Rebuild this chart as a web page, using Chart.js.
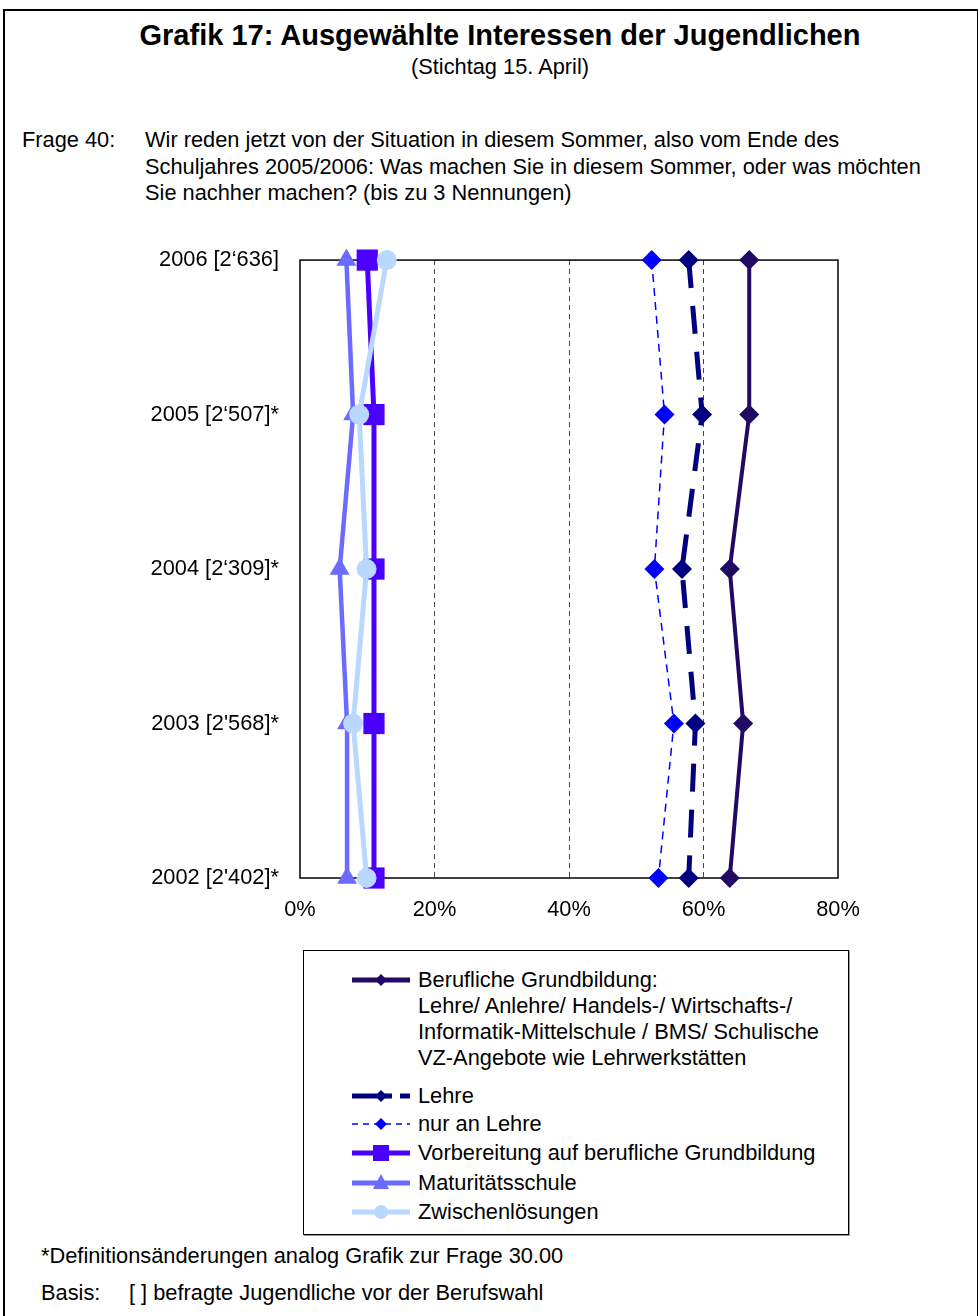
<!DOCTYPE html>
<html>
<head>
<meta charset="utf-8">
<script src="https://cdn.jsdelivr.net/npm/chart.js@4.4.0/dist/chart.umd.min.js"></script>
<style>
  body { margin: 0; background: #fff; font-family: "Liberation Sans", Arial, sans-serif; color: #000; }
  #page { position: relative; width: 978px; height: 1316px; overflow: hidden; }
  #frame { position: absolute; left: 3px; top: 9px; width: 972px; height: 1330px; border: 2px solid #000; }
  .t { position: absolute; white-space: nowrap; font-size: 21.8px; }
  #title { left: 0; width: 1000px; text-align: center; top: 19px; font-size: 29px; font-weight: bold; }
  #sub { left: 0; width: 1000px; text-align: center; top: 54px; }
  #chartBox { position: absolute; left: 0; top: 226px; width: 978px; height: 702px; }
  #legend { position: absolute; left: 303px; top: 950px; width: 544px; height: 283px; border: 1px solid #000; box-shadow: 1px 1px 0 #999; }
  .row { position: absolute; left: 48px; display: flex; align-items: flex-start; }
  .row svg { flex: none; }
  .row div { font-size: 21.8px; line-height: 26px; margin-left: 8px; }
</style>
</head>
<body>
<div id="page">
  <div id="frame"></div>
  <div class="t" id="title">Grafik 17: Ausgewählte Interessen der Jugendlichen</div>
  <div class="t" id="sub">(Stichtag 15. April)</div>
  <div class="t" style="left:22px;top:127px;">Frage 40:</div>
  <div class="t" style="left:145px;top:127px;line-height:26.5px;">Wir reden jetzt von der Situation in diesem Sommer, also vom Ende des<br>Schuljahres 2005/2006: Was machen Sie in diesem Sommer, oder was möchten<br>Sie nachher machen? (bis zu 3 Nennungen)</div>
  <div id="chartBox"><canvas id="chart"></canvas></div>
  <div id="legend"></div>
  <div class="t" style="left:41px;top:1243px;">*Definitionsänderungen analog Grafik zur Frage 30.00</div>
  <div class="t" style="left:41px;top:1280px;">Basis:</div>
  <div class="t" style="left:129px;top:1280px;">[ ] befragte Jugendliche vor der Berufswahl</div>
</div>
<script>
// Jahre (oben nach unten) und Anteile in %
const jahre = ['2006 [2‘636]', '2005 [2‘507]*', '2004 [2‘309]*', "2003 [2'568]*", "2002 [2'402]*"];
const xTicks = [0, 20, 40, 60, 80];

const berufliche = [66.8, 66.8, 63.9, 65.9, 63.9];
const lehre = [57.8, 59.8, 56.8, 58.8, 57.8];
const nurLehre = [52.3, 54.2, 52.7, 55.6, 53.3];
const vorbereitung = [10.0, 11.0, 11.0, 11.0, 11.0];
const maturitaet = [6.9, 7.9, 5.9, 7.0, 7.0];
const zwischen = [12.9, 8.8, 9.9, 7.9, 9.9];

const legendLabels = [
  ['Berufliche Grundbildung:', 'Lehre/ Anlehre/ Handels-/ Wirtschafts-/', 'Informatik-Mittelschule / BMS/ Schulische', 'VZ-Angebote wie Lehrwerkstätten'],
  ['Lehre'],
  ['nur an Lehre'],
  ['Vorbereitung auf berufliche Grundbildung'],
  ['Maturitätsschule'],
  ['Zwischenlösungen']
];

function ds(label, data, color, style, width, radius, dash, order) {
  return {
    label: label, data: data, borderColor: color, backgroundColor: color,
    pointBackgroundColor: color, pointBorderColor: color, pointBorderWidth: 0,
    pointStyle: style, pointRadius: radius, pointHoverRadius: radius,
    borderWidth: width, borderDash: dash, tension: 0, clip: false, order: order
  };
}

const datasets = [
  ds(legendLabels[0][0], berufliche, '#200A64', 'rectRot', 4, 10, [], 6),
  ds(legendLabels[1][0], lehre, '#000080', 'rectRot', 5, 10, [28, 18], 5),
  ds(legendLabels[2][0], nurLehre, '#0000FF', 'rectRot', 1.5, 10, [8, 6], 4),
  ds(legendLabels[3][0], vorbereitung, '#4B00FF', 'rect', 5, 15, [], 3),
  ds(legendLabels[4][0], maturitaet, '#6B6BFF', 'triangle', 4.5, 11.5, [], 2),
  ds(legendLabels[5][0], zwischen, '#B8D8FF', 'circle', 5, 10, [], 1)
];

const frame = {
  id: 'frame',
  beforeDatasetsDraw(chart) {
    const a = chart.chartArea, ctx = chart.ctx;
    ctx.save();
    ctx.strokeStyle = '#000';
    ctx.lineWidth = 1.5;
    ctx.strokeRect(a.left, a.top, a.right - a.left, a.bottom - a.top);
    ctx.restore();
  }
};

new Chart(document.getElementById('chart'), {
  type: 'line',
  data: { labels: jahre, datasets: datasets },
  plugins: [frame],
  options: {
    indexAxis: 'y',
    responsive: true,
    maintainAspectRatio: false,
    animation: false,
    layout: { padding: { left: 0, right: 140, top: 6, bottom: 0 } },
    plugins: { legend: { display: false }, tooltip: { enabled: false } },
    scales: {
      x: {
        type: 'linear', min: 0, max: 80,
        afterFit: function(s) { s.height = 50; },
        afterBuildTicks: function(s) { s.ticks = xTicks.map(v => ({ value: v })); },
        ticks: { padding: 19, color: '#000', font: { family: 'Liberation Sans', size: 21.8 }, callback: v => v + '%' },
        grid: { drawTicks: false, lineWidth: 1, color: c => (c.tick && (c.tick.value === 0 || c.tick.value === 80)) ? 'rgba(0,0,0,0)' : '#444' },
        border: { display: false, dash: [5, 4] }
      },
      y: {
        type: 'category', offset: false,
        afterFit: function(s) { s.width = 300; },
        ticks: { padding: 21, color: '#000', font: { family: 'Liberation Sans', size: 21.8 } },
        grid: { display: false, drawTicks: false },
        border: { display: false }
      }
    }
  }
});

// HTML-Legende
const rowTops = [16, 132, 160, 189, 219, 248];
const legend = document.getElementById('legend');
datasets.forEach(function(d, i) {
  const row = document.createElement('div');
  row.className = 'row';
  row.style.top = rowTops[i] + 'px';
  const c = d.borderColor, y = 13, cx = 29;
  let mk = '';
  if (d.pointStyle === 'rectRot') mk = `<polygon points="${cx},${y-6} ${cx+6},${y} ${cx},${y+6} ${cx-6},${y}" fill="${c}"/>`;
  if (d.pointStyle === 'rect') mk = `<rect x="${cx-8}" y="${y-8}" width="16" height="16" fill="${c}"/>`;
  if (d.pointStyle === 'triangle') mk = `<polygon points="${cx},${y-9} ${cx+8},${y+6} ${cx-8},${y+6}" fill="${c}"/>`;
  if (d.pointStyle === 'circle') mk = `<circle cx="${cx}" cy="${y}" r="7" fill="${c}"/>`;
  let dash = '';
  if (i === 1) dash = 'stroke-dasharray="40 8"';
  if (i === 2) dash = 'stroke-dasharray="6 5"';
  const w = i === 2 ? 1.5 : 5;
  row.innerHTML = `<svg width="58" height="26"><line x1="0" y1="${y}" x2="58" y2="${y}" stroke="${c}" stroke-width="${w}" ${dash}/>${mk}</svg>` +
    `<div>${legendLabels[i].join('<br>')}</div>`;
  legend.appendChild(row);
});
</script>
</body>
</html>
